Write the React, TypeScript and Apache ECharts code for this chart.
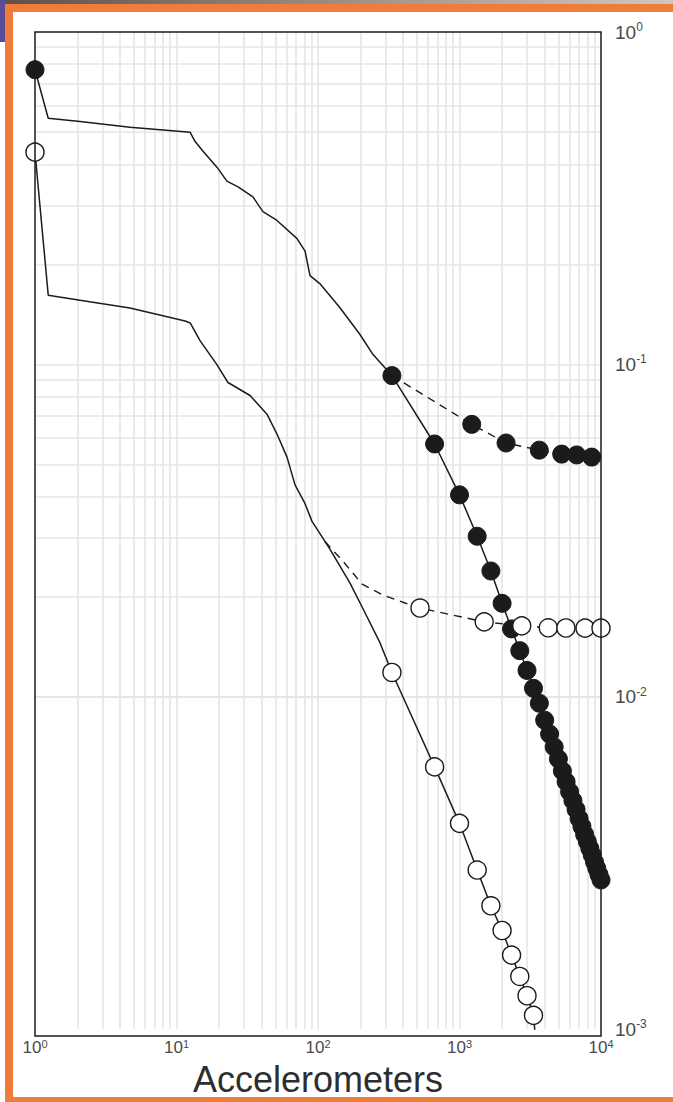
import React, { useEffect, useRef } from "react";
import * as echarts from "echarts";

// ---- data ----
const xAxisTitle = "Accelerometers";
const xTickValues = [1, 10, 100, 1000, 10000];
const yTickValues = [0.001, 0.01, 0.1, 1];

// upper curve (filled markers), solid line: smooth head part
const fullHeadX = [1, 1.24, 2.08, 4.69, 12.5, 13.5, 15.4, 19.3, 22.7, 27.2, 34.7, 40.8, 51.3, 71.1, 81.0, 87.8, 103, 143, 198, 245, 297];
const fullHeadY = [0.77, 0.55, 0.538, 0.517, 0.499, 0.469, 0.438, 0.392, 0.356, 0.342, 0.319, 0.288, 0.271, 0.239, 0.219, 0.185, 0.175, 0.148, 0.123, 0.107, 0.0977];

// marker positions along the steep part
const rankX = [333, 667, 1000, 1333, 1667, 2000, 2333, 2667, 3000, 3333, 3667, 4000, 4333, 4667, 5000, 5333, 5667, 6000, 6333, 6667, 7000, 7333, 7667, 8000, 8333, 8667, 9000, 9333, 9667, 10000];
const fullRankY = [0.0925, 0.0576, 0.0405, 0.0304, 0.0239, 0.0191, 0.016, 0.01376, 0.012, 0.0106, 0.00956, 0.0085, 0.00772, 0.00706, 0.0065, 0.00598, 0.00555, 0.00518, 0.00487, 0.00458, 0.0043, 0.00407, 0.00385, 0.00367, 0.0035, 0.00334, 0.00318, 0.00305, 0.00292, 0.00281];

// upper curve, dashed branch
const fullAltX = [333, 1220, 2133, 3664, 5275, 6734, 8597];
const fullAltY = [0.0925, 0.066, 0.058, 0.0552, 0.0537, 0.0534, 0.0526];

// lower curve (open markers), solid line
const partHeadX = [1, 1.24, 2.08, 4.69, 11.5, 12.5, 14.7, 19.3, 23.1, 33.1, 43.6, 51.3, 60.4, 68.8, 81.0, 90.7, 103, 122, 168, 208, 274];
const partHeadY = [0.435, 0.1615, 0.156, 0.1477, 0.135, 0.1332, 0.1177, 0.0998, 0.0882, 0.0806, 0.0708, 0.0617, 0.0526, 0.0434, 0.0381, 0.0337, 0.031, 0.0277, 0.022, 0.0184, 0.01454];
const partRankY = [0.01183, 0.00615, 0.00416, 0.00301, 0.00235, 0.00198, 0.00167, 0.00144, 0.00126, 0.0011, 0.0007];

// lower curve, dashed branch (markers from index 5)
const partAltX = [112, 150, 205, 288, 412, 526, 1495, 2753, 4240, 5650, 7710, 10000];
const partAltY = [0.0293, 0.02556, 0.02182, 0.02023, 0.01914, 0.01849, 0.0168, 0.01634, 0.01612, 0.0161, 0.01608, 0.01608];
const partAltMarkerStart = 5;

// ---- layout / style ----
const W = 673;
const H = 1102;
const G = { left: 35, top: 32, right: 72, bottom: 66 };
const FONT = '"Liberation Sans", Arial, Helvetica, sans-serif';
const INK = "#1b1b1b";
const GRID_COLOR = "#e8e5e0";
const ORANGE = "#f07c3b";

function pairs(xs: number[], ys: number[]) {
  return xs.slice(0, ys.length).map((x, i) => [x, ys[i]]);
}

function minorGrid(from: number, to: number) {
  const out: number[] = [];
  for (let d = from; d < to; d *= 10) {
    for (let m = 1; m <= 9; m++) {
      const v = +(d * m).toPrecision(6);
      if (v > from && v < to) out.push(v);
    }
  }
  return out;
}

function supLabel(v: number) {
  const e = Math.round(Math.log10(v));
  return `{b|10}{s|${e}}`;
}

export default function App() {
  const ref = useRef<HTMLDivElement>(null);

  useEffect(() => {
    if (!ref.current) return;
    const chart = echarts.init(ref.current, null, { renderer: "svg" });

    const fullLine = pairs(fullHeadX, fullHeadY).concat(pairs(rankX, fullRankY));
    const partLine = pairs(partHeadX, partHeadY).concat(pairs(rankX, partRankY));
    const fullAlt = pairs(fullAltX, fullAltY);
    const partAlt = pairs(partAltX, partAltY);

    const filledMarkers = [[fullHeadX[0], fullHeadY[0]]]
      .concat(pairs(rankX, fullRankY))
      .concat(fullAlt.slice(1));
    const openMarkers = [[partHeadX[0], partHeadY[0]]]
      .concat(pairs(rankX, partRankY))
      .concat(partAlt.slice(partAltMarkerStart));

    const xGrid = minorGrid(1, 10000);
    const yGrid = minorGrid(0.001, 1);

    const option: any = {
      animation: false,
      backgroundColor: "#ffffff",
      grid: { left: G.left, top: G.top, right: G.right, bottom: G.bottom, show: false },
      xAxis: {
        type: "log",
        logBase: 10,
        min: xTickValues[0],
        max: xTickValues[xTickValues.length - 1],
        splitNumber: 4,
        axisLine: { show: false },
        axisTick: { show: false },
        splitLine: { show: false },
        axisLabel: {
          margin: 9,
          formatter: supLabel,
          rich: {
            b: { fontSize: 17, fontFamily: FONT, color: "#4a4a4a", lineHeight: 19 },
            s: { fontSize: 11, fontFamily: FONT, color: "#4a4a4a", verticalAlign: "top", lineHeight: 11 },
          },
        },
        name: xAxisTitle,
        nameLocation: "middle",
        nameGap: 24,
        nameTextStyle: { fontSize: 36, fontFamily: FONT, color: "#2e2e2e", verticalAlign: "top" },
      },
      yAxis: {
        type: "log",
        logBase: 10,
        position: "right",
        min: yTickValues[0],
        max: yTickValues[yTickValues.length - 1],
        splitNumber: 3,
        axisLine: { show: false },
        axisTick: { show: false },
        splitLine: { show: false },
        axisLabel: {
          margin: 14,
          formatter: supLabel,
          rich: {
            b: { fontSize: 19, fontFamily: FONT, color: "#4a4a4a", lineHeight: 22 },
            s: { fontSize: 12, fontFamily: FONT, color: "#4a4a4a", verticalAlign: "top", lineHeight: 12 },
          },
        },
      },
      graphic: [
        {
          type: "rect",
          shape: { x: 0, y: 0, width: W, height: 4 },
          style: {
            fill: new echarts.graphic.LinearGradient(0, 0, 1, 0, [
              { offset: 0, color: "#5e5048" },
              { offset: 0.5, color: "#9c8e84" },
              { offset: 1, color: "#cfc7bf" },
            ]),
          },
          silent: true,
        },
        { type: "rect", shape: { x: 5, y: 4, width: W - 5, height: 8 }, style: { fill: ORANGE }, silent: true },
        { type: "rect", shape: { x: 5, y: 4, width: 8, height: H - 4 }, style: { fill: ORANGE }, silent: true },
        { type: "rect", shape: { x: 5, y: H - 5, width: W - 5, height: 5 }, style: { fill: ORANGE }, silent: true },
        { type: "rect", shape: { x: 0, y: 0, width: 5, height: 42 }, style: { fill: "#5a4b98" }, silent: true },
        {
          type: "rect",
          z: 100,
          shape: { x: G.left, y: G.top, width: W - G.left - G.right, height: H - G.top - G.bottom },
          style: { fill: "none", stroke: INK, lineWidth: 1.5 },
          silent: true,
        },
      ],
      series: [
        {
          type: "line",
          name: "grid",
          data: [],
          z: 1,
          silent: true,
          markLine: {
            z: 1,
            silent: true,
            symbol: ["none", "none"],
            label: { show: false },
            lineStyle: { color: GRID_COLOR, width: 1.6, type: "solid" },
            data: [
              ...xGrid.map((v) => ({ xAxis: v })),
              ...yGrid.map((v) => ({ yAxis: v })),
            ],
          },
        },
        {
          type: "line",
          name: "full",
          data: fullLine,
          symbol: "none",
          showSymbol: false,
          clip: true,
          z: 3,
          lineStyle: { color: INK, width: 1.5 },
        },
        {
          type: "line",
          name: "full-alt",
          data: fullAlt,
          symbol: "none",
          showSymbol: false,
          clip: true,
          z: 3,
          lineStyle: { color: INK, width: 1.4, type: [8, 6] },
        },
        {
          type: "line",
          name: "part",
          data: partLine,
          symbol: "none",
          showSymbol: false,
          clip: true,
          z: 3,
          lineStyle: { color: INK, width: 1.5 },
        },
        {
          type: "line",
          name: "part-alt",
          data: partAlt,
          symbol: "none",
          showSymbol: false,
          clip: true,
          z: 3,
          lineStyle: { color: INK, width: 1.4, type: [8, 6] },
        },
        {
          type: "scatter",
          name: "full-markers",
          data: filledMarkers,
          symbol: "circle",
          symbolSize: 18,
          clip: true,
          z: 4,
          itemStyle: { color: INK, borderColor: INK, borderWidth: 1, opacity: 1 },
        },
        {
          type: "scatter",
          name: "part-markers",
          data: openMarkers,
          symbol: "circle",
          symbolSize: 18,
          clip: true,
          z: 5,
          itemStyle: { color: "#ffffff", borderColor: INK, borderWidth: 1.4, opacity: 1 },
        },
      ],
    };

    chart.setOption(option);
    return () => chart.dispose();
  }, []);

  return (
    <div
      ref={ref}
      style={{ position: "fixed", left: 0, top: 0, width: W, height: H, background: "#ffffff" }}
    />
  );
}
